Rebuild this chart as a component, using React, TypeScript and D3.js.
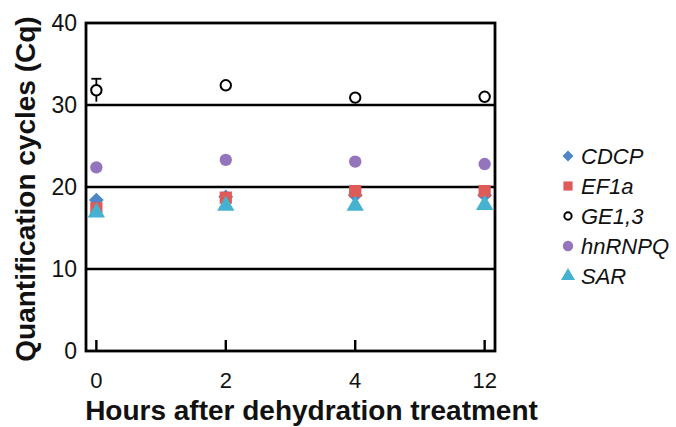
import React from "react";
import * as d3 from "d3";

// hours after treatment (categorical axis)
const hours = ["0", "2", "4", "12"];
const seriesNames = ["CDCP", "EF1a", "GE1,3", "hnRNPQ", "SAR"];
const cdcp = [18.4, 18.8, 19.0, 19.0];
const ef1a = [17.4, 18.7, 19.5, 19.5];
const ge13 = [31.8, 32.4, 30.9, 31.0];
const ge13Err = [1.4, 0.3, 0.3, 0.3];
const hnrnpq = [22.4, 23.3, 23.1, 22.8];
const sar = [16.9, 17.7, 17.7, 17.8];
const yTicks = [0, 10, 20, 30, 40];

const W = 676;
const H = 427;
const margin = { top: 23, right: 181, bottom: 76, left: 86 };

const colors: Record<string, string> = {
  CDCP: "#4f86c6",
  EF1a: "#de5b57",
  "GE1,3": "#000",
  hnRNPQ: "#9475bd",
  SAR: "#45b3d0",
};

const shapes: Record<string, d3.SymbolType> = {
  CDCP: d3.symbolSquare,
  EF1a: d3.symbolSquare,
  "GE1,3": d3.symbolCircle,
  hnRNPQ: d3.symbolCircle,
  SAR: d3.symbolTriangle,
};

const font = "'Liberation Sans', Arial, sans-serif";

function Marker({ name, x, y, size }: { name: string; x: number; y: number; size: number }) {
  const path = d3.symbol(shapes[name], size)() || "";
  const open = name === "GE1,3";
  // diamond = square turned 45deg
  const rot = name === "CDCP" ? " rotate(45)" : "";
  return (
    <path
      d={path}
      transform={`translate(${x},${y})${rot}`}
      fill={open ? "#fff" : colors[name]}
      stroke={open ? "#000" : "none"}
      strokeWidth={open ? 2 : 0}
    />
  );
}

export default function App() {
  const innerW = W - margin.left - margin.right;
  const innerH = H - margin.top - margin.bottom;
  const x = d3.scalePoint().domain(hours).range([0, innerW]).padding(0.08);
  const y = d3.scaleLinear().domain([0, 40]).range([innerH, 0]);

  const data: Record<string, number[]> = {
    CDCP: cdcp,
    EF1a: ef1a,
    "GE1,3": ge13,
    hnRNPQ: hnrnpq,
    SAR: sar,
  };
  const drawOrder = ["hnRNPQ", "GE1,3", "CDCP", "EF1a", "SAR"];
  const markerSize: Record<string, number> = {
    CDCP: 110,
    EF1a: 150,
    "GE1,3": 85,
    hnRNPQ: 120,
    SAR: 130,
  };

  return (
    <svg width={W} height={H} style={{ position: "absolute", left: 0, top: 0, background: "#fff" }}>
      <g transform={`translate(${margin.left},${margin.top})`}>
        {/* gridlines */}
        {yTicks.slice(1, 4).map((t) => (
          <line key={t} x1={0} x2={innerW} y1={y(t)} y2={y(t)} stroke="#000" strokeWidth={2.4} />
        ))}
        {/* frame */}
        <rect x={0} y={0} width={innerW} height={innerH} fill="none" stroke="#000" strokeWidth={2.8} />
        {/* x ticks pointing inward */}
        {hours.map((h) => (
          <line key={h} x1={x(h)} x2={x(h)} y1={innerH} y2={innerH - 11} stroke="#000" strokeWidth={2.4} />
        ))}
        {/* y tick labels */}
        {yTicks.map((t) => (
          <text key={t} x={-9} y={y(t)} dy="0.36em" textAnchor="end" fontSize={23} fontFamily={font} fill="#111">
            {t}
          </text>
        ))}
        {/* x tick labels */}
        {hours.map((h) => (
          <text key={h} x={x(h)} y={innerH + 37} textAnchor="middle" fontSize={22} fontFamily={font} fill="#111">
            {h}
          </text>
        ))}
        {/* error bar for GE1,3 */}
        {ge13.map((v, i) =>
          ge13Err[i] > 0.5 ? (
            <g key={i} stroke="#000" strokeWidth={1.8}>
              <line x1={x(hours[i])} x2={x(hours[i])} y1={y(v + ge13Err[i])} y2={y(v - ge13Err[i])} />
              <line x1={(x(hours[i]) as number) - 5} x2={(x(hours[i]) as number) + 5} y1={y(v + ge13Err[i])} y2={y(v + ge13Err[i])} />
            </g>
          ) : null
        )}
        {drawOrder.map((name) =>
          data[name].map((v, i) => (
            <Marker key={name + i} name={name} x={x(hours[i]) as number} y={y(v)} size={markerSize[name]} />
          ))
        )}
        {/* axis titles */}
        <text
          transform={`translate(${-51},${innerH / 2 + 2}) rotate(-90)`}
          textAnchor="middle"
          fontSize={28}
          fontWeight="bold"
          fontFamily={font}
          fill="#111"
        >
          Quantification cycles (Cq)
        </text>
        <text x={innerW / 2 + 21} y={innerH + 69} textAnchor="middle" fontSize={28} fontWeight="bold" fontFamily={font} fill="#111">
          Hours after dehydration treatment
        </text>
      </g>
      {/* legend */}
      <g transform="translate(568,156)">
        {seriesNames.map((name, i) => (
          <g key={name} transform={`translate(0,${i * 30})`}>
            <Marker name={name} x={0} y={0} size={name === "GE1,3" ? 42 : name === "CDCP" ? 60 : 85} />
            <text x={13} y={0} dy="0.36em" fontSize={22} fontStyle="italic" fontFamily={font} fill="#111">
              {name}
            </text>
          </g>
        ))}
      </g>
    </svg>
  );
}
